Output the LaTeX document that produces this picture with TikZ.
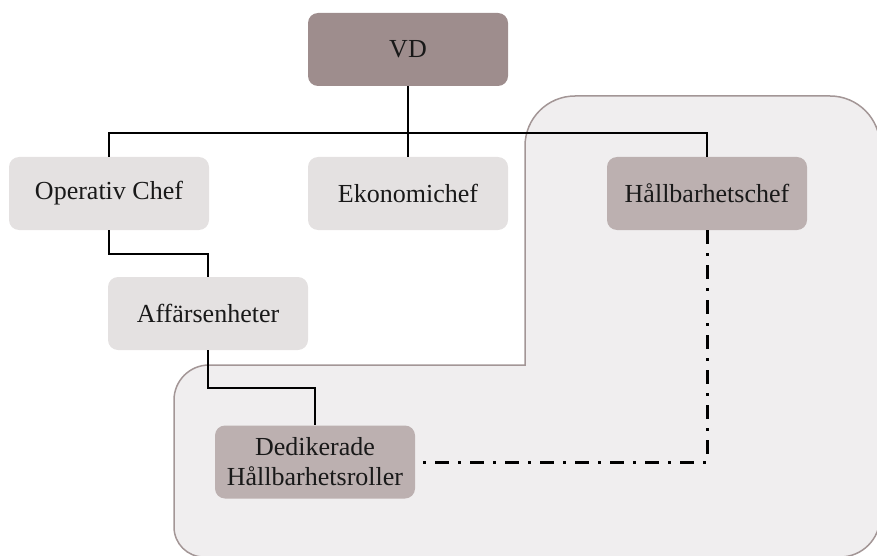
\documentclass[tikz,border=0pt]{standalone}
\usepackage{fontspec}
\setmainfont{Liberation Serif}
\usetikzlibrary{calc}

\definecolor{topboss}{HTML}{9E8D8D}
\definecolor{sustbox}{HTML}{BCB0B0}
\definecolor{plainbox}{HTML}{E4E1E1}
\definecolor{zonefill}{HTML}{F0EEEF}
\definecolor{zoneline}{HTML}{A39696}

\tikzset{
  orgbox/.style={rectangle, rounded corners=10pt, minimum width=200pt,
    minimum height=73pt, inner sep=2pt, align=center, text=black!90,
    font=\fontsize{26}{30}\selectfont},
  bossbox/.style={orgbox, fill=topboss},
  greenbox/.style={orgbox, fill=sustbox},
  staffbox/.style={orgbox, fill=plainbox},
  link/.style={draw=black, line width=2pt},
  dotlink/.style={draw=black, line width=3pt,
    dash pattern=on 14pt off 9pt on 3pt off 9pt},
}

\begin{document}
\begin{tikzpicture}[x=1pt, y=-1pt]
  \useasboundingbox (0,0) rectangle (877,556);
  \clip (0,0) rectangle (877,556);

  % shaded sustainability zone (L-shaped, sharp inner corner)
  \filldraw[fill=zonefill, draw=zoneline, line width=1.5pt]
    (525,365) -- (525,146)
    .. controls (525,118.4) and (547.4,96) .. (575,96) -- (830,96)
    .. controls (857.6,96) and (880,118.4) .. (880,146) -- (880,517)
    .. controls (880,539.1) and (862.1,557) .. (840,557) -- (204,557)
    .. controls (187.4,557) and (174,543.6) .. (174,527) -- (174,400)
    .. controls (174,380.7) and (189.7,365) .. (209,365) -- cycle;

  % organisation boxes
  \node[bossbox]  (vd)  at (408,49.5)  {VD};
  \node[staffbox] (op)  at (109,193.5) {Operativ Chef};
  \node[staffbox] (eko) at (408,193.5) {Ekonomichef};
  \node[greenbox] (hb)  at (707,193.5) {Hållbarhetschef};
  \node[staffbox] (af)  at (208,313.5) {Affärsenheter};
  \node[greenbox] (ded) at (315,462)   {Dedikerade\\Hållbarhetsroller};

  % reporting lines
  \coordinate (bus) at (0,133);
  \draw[link] (vd.south) -- (eko.north);
  \draw[link] (op.north) |- (bus -| hb.north) -- (hb.north);
  \draw[link] (op.south) -- ++(0,24) -| (af.north);
  \draw[link] (af.south) -- ++(0,38) -| (ded.north);

  % functional (dotted) line
  \draw[dotlink] (hb.south) |- (ded.east);
\end{tikzpicture}
\end{document}
